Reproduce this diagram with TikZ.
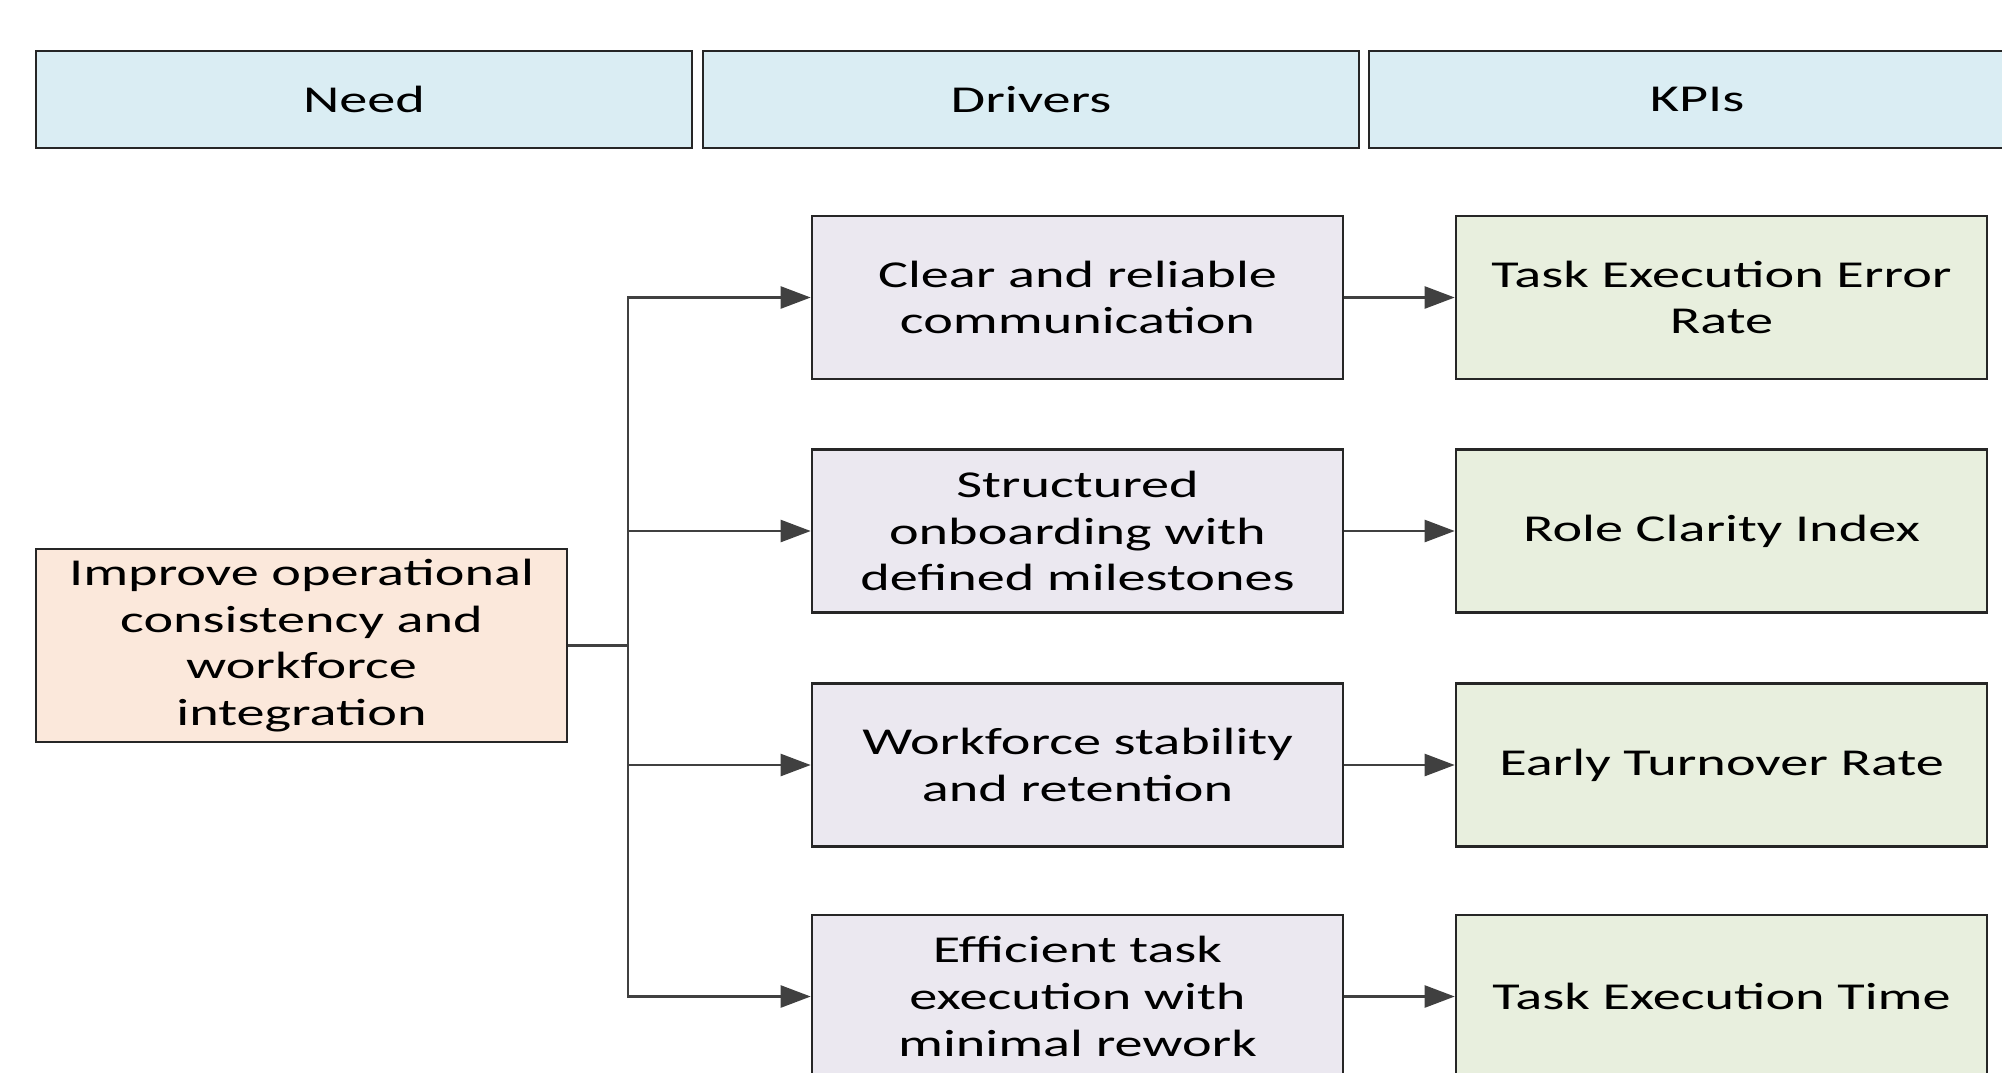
\documentclass[tikz,border=0pt]{standalone}
\usepackage{fontspec}
\setmainfont{Carlito}[FakeStretch=1.48]
\usepackage{tikz}
\usetikzlibrary{arrows.meta}

\definecolor{headblue}{HTML}{DAEDF3}
\definecolor{needpeach}{HTML}{FBE8DB}
\definecolor{drvlilac}{HTML}{EBE8F0}
\definecolor{kpigreen}{HTML}{E8EFDE}

\begin{document}
\begin{tikzpicture}[x=0.5pt, y=-0.5pt, >={Triangle[length=15pt,width=11pt]}]
    \tikzstyle{box} = [draw=black!85, line width=1.3pt, rectangle,
	align=center, inner sep=0pt, font=\fontsize{19}{23.4}\selectfont]
    \tikzstyle{head} = [box, fill=headblue, minimum width=328pt, minimum height=48.5pt]
    \tikzstyle{need} = [box, fill=needpeach, minimum width=265.5pt, minimum height=96.5pt]
    \tikzstyle{driver} = [box, fill=drvlilac, minimum width=265.5pt, minimum height=81.5pt]
    \tikzstyle{kpi} = [box, fill=kpigreen, minimum width=265.5pt, minimum height=81.5pt]

	\useasboundingbox (0,0) rectangle (2002,1072);

	% column heads
	\path
		node[head] (hNeed) at (364,99.5) {Need}
		node[head] (hDrivers) at (1031,99.5) {Drivers}
		node[head] (hKPIs) at (1697,99.5) {KPIs}
	;

	\begin{scope}
		\path[->, line width=1.2pt, every edge/.append style={draw=black!75}]
			node[need] (N) at (301.5,645.5)
				{Improve operational\\consistency and\\workforce\\integration}

			node[driver] (D1) at (1077.5,297.5) {Clear and reliable\\communication}
			node[driver] (D2) at (1077.5,531) {Structured\\onboarding with\\defined milestones}
			node[driver] (D3) at (1077.5,765) {Workforce stability\\and retention}
			node[driver] (D4) at (1077.5,996.5) {Efficient task\\execution with\\minimal rework}

			node[kpi] (K1) at (1721.5,297.5) {Task Execution Error\\Rate}
			node[kpi] (K2) at (1721.5,531) {Role Clarity Index}
			node[kpi] (K3) at (1721.5,765) {Early Turnover Rate}
			node[kpi] (K4) at (1721.5,996.5) {Task Execution Time}

			coordinate (J) at (628,645.5)

			(N) edge[-] (J)
			(J) edge[to path={|- (\tikztotarget)}] (D1.west)
			(J) edge[to path={|- (\tikztotarget)}] (D2.west)
			(J) edge[to path={|- (\tikztotarget)}] (D3.west)
			(J) edge[to path={|- (\tikztotarget)}] (D4.west)

			(D1) edge (K1)
			(D2) edge (K2)
			(D3) edge (K3)
			(D4) edge (K4)
		;
	\end{scope}
\end{tikzpicture}
\end{document}
